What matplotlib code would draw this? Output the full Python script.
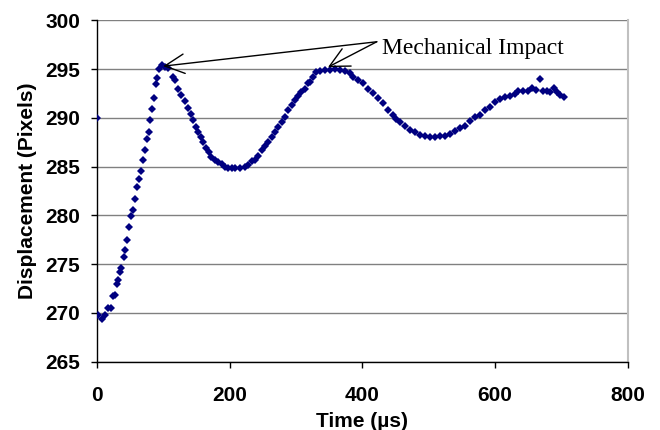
import matplotlib
matplotlib.use("Agg")
import matplotlib.pyplot as plt

# values
time_us = [0, 0.5, 6.5, 11.5, 16.5, 20.5, 24, 26.5, 29, 31.5, 34, 36.5, 40.5, 42.5, 45, 48,
           51.5, 54, 56.5, 60.5, 63, 66.5, 69.5, 72, 75, 77.5, 80, 83, 85.5, 88, 90.5, 93.5,
           97, 102, 107, 114.6, 117, 122, 127, 132, 137, 141, 145, 149, 152, 156, 160, 164,
           168, 172, 177, 182, 187.5, 192.5, 197.5, 202.5, 207.5, 215, 222.6, 227.6, 232.7,
           237.7, 242.7, 247.7, 252.7, 257.8, 262.8, 267.8, 272.9, 277.9, 282.9, 287.9, 293,
           298, 303, 308, 313, 318, 320.6, 325.6, 330.6, 335.6, 343.2, 350.7, 358.3, 365.8,
           373.3, 380.9, 385.9, 393.4, 400.9, 408.5, 416, 423.6, 431.1, 438.6, 446.2, 451.2,
           456.2, 463.8, 471.3, 478.8, 486.4, 493.9, 501.4, 509, 516.5, 524, 531.6, 539.1,
           546.6, 554.2, 561.7, 569.3, 576.8, 584.3, 591.9, 599.4, 606.9, 614.5, 622, 629.5,
           634.6, 642.1, 649.7, 656.2, 662.2, 667.2, 672.2, 678.3, 683.3, 688.3, 693.4, 698.4,
           703.4]
displacement = [290.0, 269.8, 269.4, 269.8, 270.5, 270.5, 271.7, 271.8, 273.0, 273.4, 274.2,
                274.6, 275.7, 276.5, 277.5, 278.8, 279.9, 280.6, 281.7, 282.9, 283.7, 284.6,
                285.7, 286.7, 287.8, 288.6, 289.8, 290.9, 292.0, 293.5, 294.1, 295.0,
                295.4, 295.2, 295.1, 294.2, 293.9, 293.0, 292.3, 291.7, 291.0, 290.4, 289.8,
                289.1, 288.6, 288.0, 287.5, 286.9, 286.5, 286.0, 285.7, 285.5, 285.3, 285.0,
                284.9, 284.9, 284.9, 284.9, 285.0, 285.2, 285.6, 285.7, 286.1, 286.7, 287.1,
                287.5, 288.0, 288.6, 289.1, 289.6, 290.1, 290.8, 291.3, 291.8, 292.2, 292.7,
                293.0, 293.6, 293.7, 294.2, 294.7, 294.8, 294.9, 294.9, 295.0, 294.9, 294.8,
                294.6, 294.2, 293.9, 293.6, 293.0, 292.5, 292.0, 291.5, 290.8, 290.3, 289.9,
                289.6, 289.2, 288.8, 288.6, 288.2, 288.1, 288.0, 288.0, 288.1, 288.1, 288.3,
                288.7, 289.0, 289.2, 289.7, 290.1, 290.3, 290.8, 291.1, 291.6, 291.9, 292.1,
                292.2, 292.4, 292.8, 292.8, 292.8, 293.1, 292.9, 294.0, 292.8, 292.8, 292.6,
                293.1, 292.7, 292.3, 292.1]

xticks = [0, 200, 400, 600, 800]
yticks = [265, 270, 275, 280, 285, 290, 295, 300]

impact_label = "Mechanical Impact"
impact_points = [(99.5, 295.3), (348, 295.2)]

fig = plt.figure(figsize=(6.6, 4.3), dpi=100)
ax = fig.add_axes([0.1474, 0.1588, 0.8036, 0.794])

ax.plot(time_us, displacement, linestyle="none", marker="D", markersize=3.8,
        markeredgewidth=0, color="#000080", zorder=3)

ax.set_xlim(0, 800)
ax.set_ylim(265, 300)
ax.set_xticks(xticks)
ax.set_yticks(yticks)

# horizontal grid only, like the excel original
ax.grid(axis="y", color="#808080", linewidth=1)
ax.set_axisbelow(True)

ax.spines["top"].set_visible(False)
ax.spines["right"].set_color("#c0c0c0")
ax.spines["right"].set_linewidth(1.5)
ax.spines["left"].set_linewidth(1)
ax.spines["bottom"].set_linewidth(1)

ax.tick_params(axis="both", direction="out", length=4.3, width=1)
ax.tick_params(axis="x", pad=13)
ax.tick_params(axis="y", pad=8)
for lbl in ax.get_xticklabels() + ax.get_yticklabels():
    lbl.set_fontfamily("Liberation Sans")
    lbl.set_fontweight("bold")
    lbl.set_fontsize(15)

ax.set_xlabel("Time (µs)", fontfamily="Liberation Sans", fontweight="bold",
              fontsize=15, labelpad=5)
ax.set_ylabel("Displacement (Pixels)", fontfamily="Liberation Sans", fontweight="bold",
              fontsize=15, labelpad=6)

# annotation arrows
start = (421.6, 297.8)
for pt in impact_points:
    ax.annotate("", xy=pt, xytext=start, textcoords="data",
                arrowprops=dict(arrowstyle="->,head_length=0.5,head_width=0.25",
                                color="black", lw=1, shrinkA=0, shrinkB=0,
                                mutation_scale=28),
                annotation_clip=False)
ax.text(429.5, 296.5, impact_label, fontfamily="Liberation Serif", fontsize=17,
        ha="left", va="baseline")

fig.savefig("out.png", dpi=100)
